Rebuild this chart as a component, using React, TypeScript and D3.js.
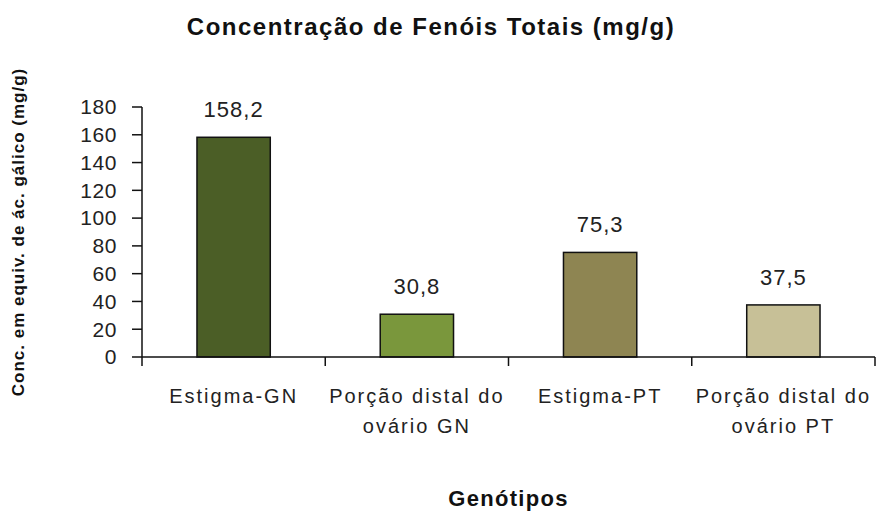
import React from "react";
import * as d3 from "d3";

const categories: string[][] = [
  ["Estigma-GN"],
  ["Porção distal do", "ovário GN"],
  ["Estigma-PT"],
  ["Porção distal do", "ovário PT"],
];
const values: number[] = [158.2, 30.8, 75.3, 37.5];
const valueLabels: string[] = ["158,2", "30,8", "75,3", "37,5"];
const barColors: string[] = ["#4b5e26", "#7a973c", "#8e8552", "#c7c097"];
const yTicks: number[] = [0, 20, 40, 60, 80, 100, 120, 140, 160, 180];
const title = "Concentração de Fenóis Totais (mg/g)";
const yTitle = "Conc. em equiv. de ác. gálico (mg/g)";
const xTitle = "Genótipos";

const W = 877;
const H = 515;
const FONT = "'Liberation Sans', Arial, sans-serif";

export default function App() {
  const keys = categories.map((c) => c.join(" "));
  const x = d3
    .scaleBand<string>()
    .domain(keys)
    .range([142, 875])
    .paddingInner(0.6)
    .paddingOuter(0.3);
  const y = d3.scaleLinear().domain([0, 180]).range([357, 107]);
  const step = x.step();
  const x0 = x.range()[0];
  const plotCenterX = (x.range()[0] + x.range()[1]) / 2;
  const plotCenterY = (y.range()[0] + y.range()[1]) / 2;

  return (
    <svg
      width={W}
      height={H}
      style={{ position: "fixed", left: 0, top: 0, background: "#fff" }}
      fontFamily={FONT}
    >
      <rect x={0} y={0} width={W} height={H} fill="#fff" />
      {/* title */}
      <text
        x={431}
        y={35}
        textAnchor="middle"
        fontSize={24}
        fontWeight="bold"
        fill="#111"
        letterSpacing={1.5}
      >
        {title}
      </text>
      {/* bars */}
      {values.map((v, i) => (
        <rect
          key={i}
          x={x(keys[i])!}
          y={y(v)}
          width={x.bandwidth()}
          height={y(0) - y(v)}
          fill={barColors[i]}
          stroke="#111"
          strokeWidth={1.5}
        />
      ))}
      {/* value labels */}
      {values.map((v, i) => (
        <text
          key={i}
          x={x(keys[i])! + x.bandwidth() / 2}
          y={y(v) - 20}
          textAnchor="middle"
          fontSize={22}
          fill="#222"
          letterSpacing={1}
        >
          {valueLabels[i]}
        </text>
      ))}
      {/* y axis */}
      <line x1={x0} x2={x0} y1={y(180)} y2={y(0)} stroke="#111" strokeWidth={1.5} />
      {yTicks.map((t) => (
        <g key={t}>
          <line x1={x0 - 10} x2={x0} y1={y(t)} y2={y(t)} stroke="#111" strokeWidth={1.5} />
          <text
            x={117}
            y={y(t)}
            dy="0.35em"
            textAnchor="end"
            fontSize={21}
            fill="#222"
            letterSpacing={0.6}
          >
            {t}
          </text>
        </g>
      ))}
      {/* x axis */}
      <line x1={x0} x2={x.range()[1]} y1={y(0)} y2={y(0)} stroke="#111" strokeWidth={1.5} />
      {d3.range(keys.length + 1).map((i) => (
        <line
          key={i}
          x1={x0 + i * step}
          x2={x0 + i * step}
          y1={y(0)}
          y2={y(0) + 9}
          stroke="#111"
          strokeWidth={1.5}
        />
      ))}
      {categories.map((lines, i) => (
        <text
          key={i}
          x={x(keys[i])! + x.bandwidth() / 2}
          y={403}
          textAnchor="middle"
          fontSize={20}
          fill="#222"
          letterSpacing={2}
        >
          {lines.map((l, j) => (
            <tspan key={j} x={x(keys[i])! + x.bandwidth() / 2} dy={j === 0 ? 0 : 30}>
              {l}
            </tspan>
          ))}
        </text>
      ))}
      {/* axis titles */}
      <text
        x={plotCenterX}
        y={506}
        textAnchor="middle"
        fontSize={22}
        fontWeight="bold"
        fill="#111"
        letterSpacing={1.3}
      >
        {xTitle}
      </text>
      <text
        transform={`translate(24,${plotCenterY}) rotate(-90)`}
        textAnchor="middle"
        fontSize={17}
        fontWeight="bold"
        fill="#111"
        letterSpacing={1}
      >
        {yTitle}
      </text>
    </svg>
  );
}
